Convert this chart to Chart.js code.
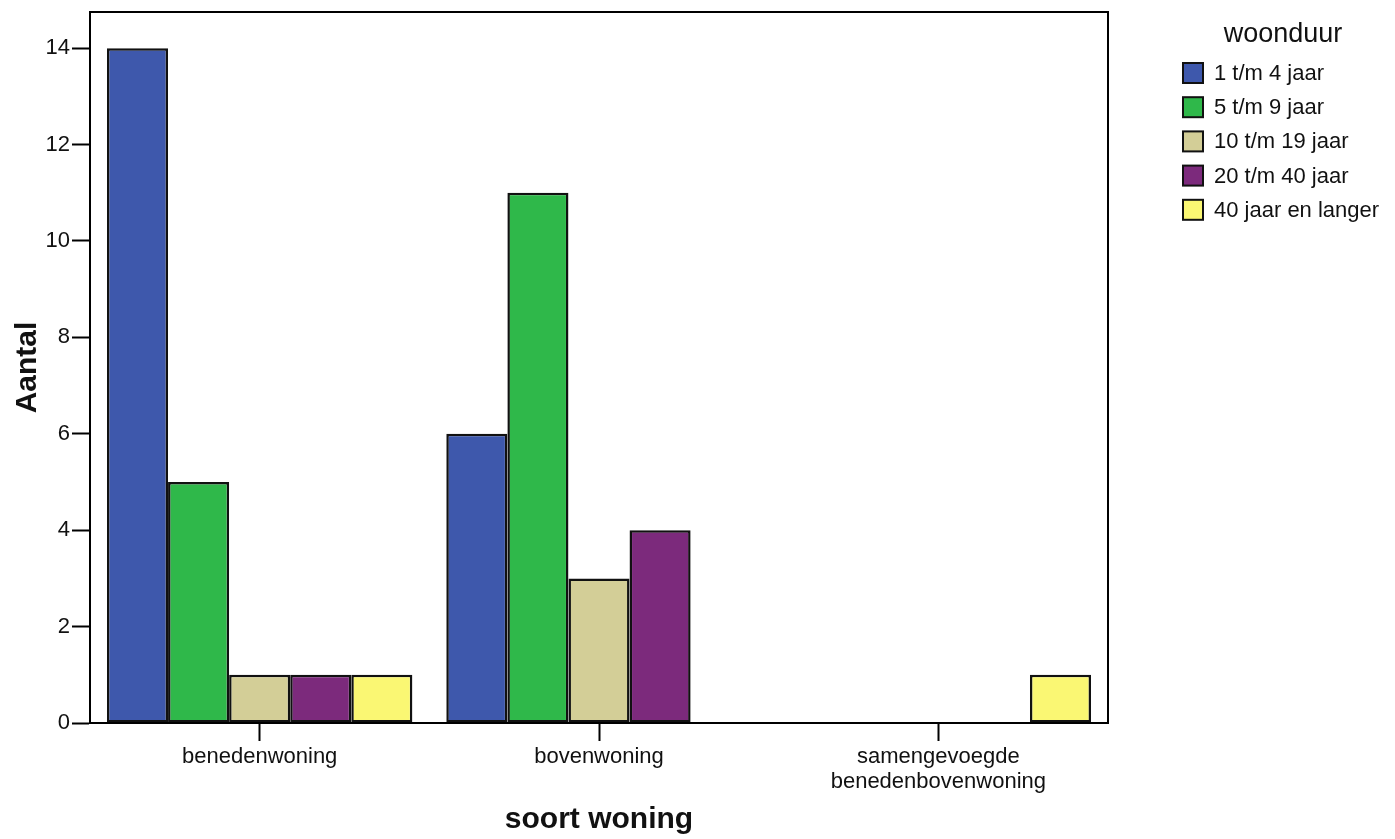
<!DOCTYPE html>
<html>
<head>
<meta charset="utf-8">
<script src="https://cdn.jsdelivr.net/npm/chart.js@4/dist/chart.umd.min.js"></script>
<style>
  html, body { margin: 0; padding: 0; background: #fff; }
  #wrap { width: 1395px; height: 839px; }
</style>
</head>
<body>
<div id="wrap"><canvas id="c" width="1395" height="839"></canvas></div>
<script>
// Woningtype per woonduur (aantallen)
const categories = ['benedenwoning', 'bovenwoning', ['samengevoegde', 'benedenbovenwoning']];
const seriesNames = ['1 t/m 4 jaar', '5 t/m 9 jaar', '10 t/m 19 jaar', '20 t/m 40 jaar', '40 jaar en langer'];
const jaar1tm4   = [14, 6, null];
const jaar5tm9   = [5, 11, null];
const jaar10tm19 = [1, 3, null];
const jaar20tm40 = [1, 4, null];
const jaar40plus = [1, null, 1];
const yTicks = [0, 2, 4, 6, 8, 10, 12, 14];
const seriesColors = ['#3e58ac', '#2fb84a', '#d3ce97', '#7c2a7c', '#faf773'];

const values = [jaar1tm4, jaar5tm9, jaar10tm19, jaar20tm40, jaar40plus];
const FONT = '"Liberation Sans", Arial, sans-serif';

const datasets = seriesNames.map((name, i) => ({
  label: name,
  data: values[i],
  backgroundColor: seriesColors[i],
  borderColor: '#111',
  borderWidth: 2.5,
  borderSkipped: false,
  barPercentage: 1.0,
  categoryPercentage: 0.9
}));

// Kader om het plotgebied en legenda rechts
const frameAndLegend = {
  id: 'frameAndLegend',
  afterDatasetsDraw(chart) {
    const { ctx, chartArea: a } = chart;
    ctx.save();
    ctx.strokeStyle = '#000';
    ctx.lineWidth = 2;
    ctx.strokeRect(a.left, a.top, a.right - a.left, a.bottom - a.top);

    // legenda
    ctx.fillStyle = '#111';
    ctx.textBaseline = 'middle';
    ctx.textAlign = 'center';
    ctx.font = '27px ' + FONT;
    ctx.fillText('woonduur', 1283, 35);
    ctx.textAlign = 'left';
    ctx.font = '22px ' + FONT;
    chart.data.datasets.forEach((ds, i) => {
      const y = 73 + i * 34.2;
      ctx.fillStyle = ds.backgroundColor;
      ctx.fillRect(1183, y - 10, 20, 20);
      ctx.lineWidth = 2;
      ctx.strokeStyle = '#111';
      ctx.strokeRect(1183, y - 10, 20, 20);
      ctx.fillStyle = '#111';
      ctx.fillText(ds.label, 1214, y + 1);
    });
    ctx.restore();
  }
};

new Chart(document.getElementById('c'), {
  type: 'bar',
  data: { labels: categories, datasets },
  options: {
    responsive: false,
    animation: false,
    layout: { padding: { top: 12, right: 287, bottom: 0, left: 0 } },
    plugins: {
      legend: { display: false },
      tooltip: { enabled: false }
    },
    scales: {
      x: {
        afterFit(scale) { scale.height = 116; scale.paddingLeft = 0; scale.paddingRight = 0; },
        border: { display: true, color: '#000', width: 2 },
        grid: {
          offset: false,
          drawOnChartArea: false,
          drawTicks: true,
          tickLength: 18,
          tickWidth: 2,
          tickColor: '#000'
        },
        ticks: {
          color: '#111',
          padding: 4,
          maxRotation: 0,
          font: { family: FONT, size: 22, lineHeight: 1.12 }
        },
        title: {
          display: true,
          text: 'soort woning',
          color: '#111',
          font: { family: FONT, size: 30, weight: 'bold', lineHeight: 1.2 },
          padding: { top: 0, bottom: 1 }
        }
      },
      y: {
        min: 0,
        max: 14.75,
        afterFit(scale) { scale.width = 90; scale.paddingTop = 0; scale.paddingBottom = 0; },
        afterBuildTicks(scale) { scale.ticks = yTicks.map(v => ({ value: v })); },
        border: { display: true, color: '#000', width: 2 },
        grid: {
          drawOnChartArea: false,
          drawTicks: true,
          tickLength: 18,
          tickWidth: 2,
          tickColor: '#000'
        },
        ticks: {
          color: '#111',
          padding: 2,
          font: { family: FONT, size: 22 }
        },
        title: {
          display: true,
          text: 'Aantal',
          color: '#111',
          font: { family: FONT, size: 30, weight: 'bold', lineHeight: 1.2 },
          padding: { top: 10, bottom: 0 }
        }
      }
    }
  },
  plugins: [frameAndLegend]
});
</script>
</body>
</html>
